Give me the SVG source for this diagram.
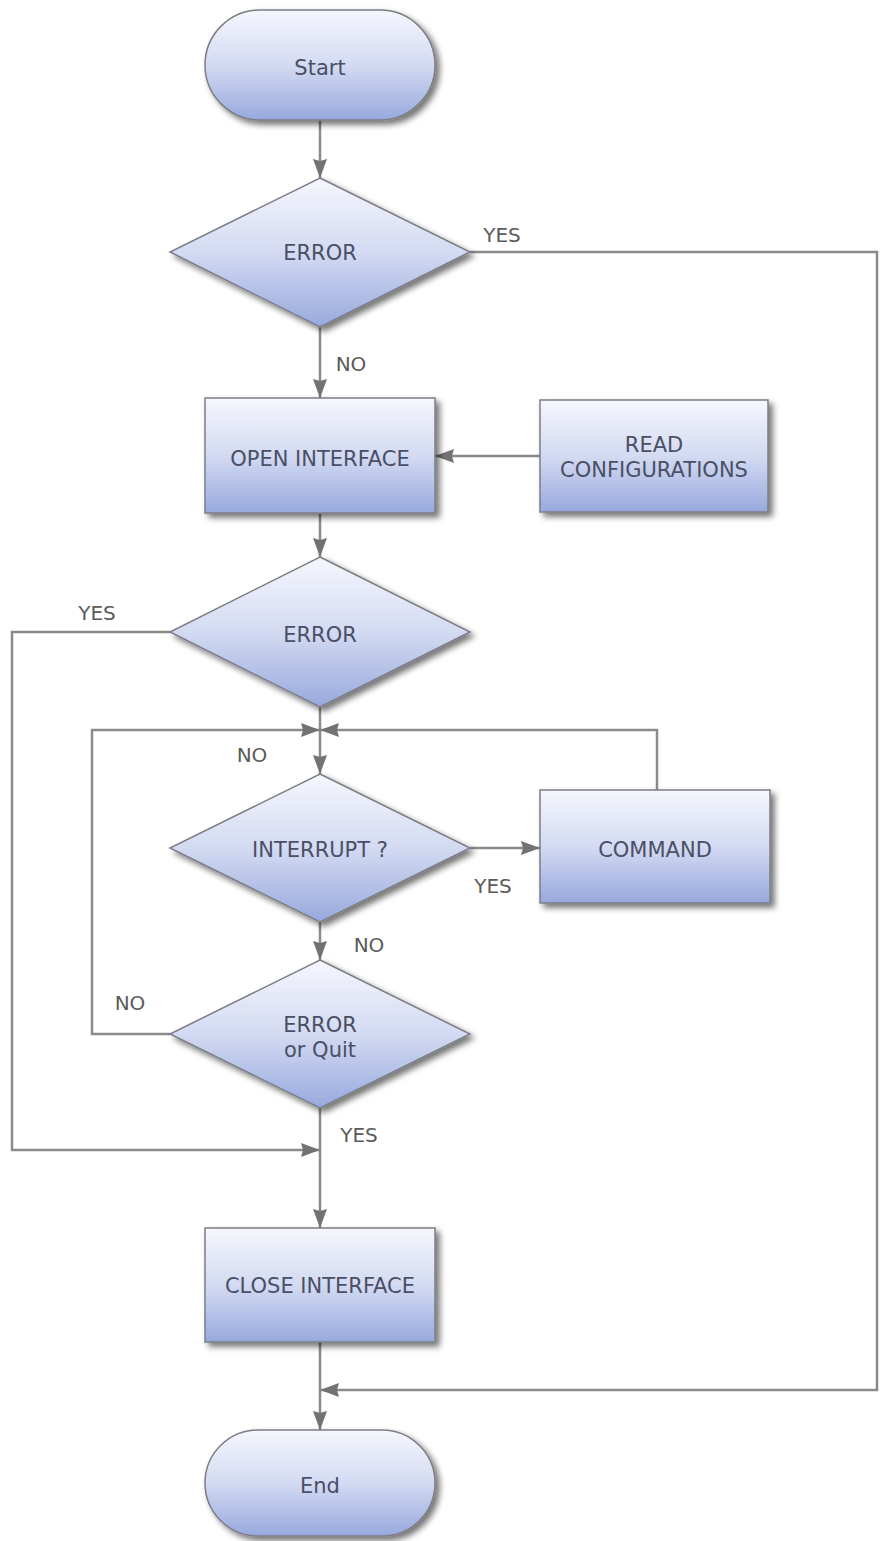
<svg xmlns="http://www.w3.org/2000/svg" width="880" height="1541" viewBox="0 0 880 1541">
<defs>
<linearGradient id="g" x1="0" y1="0" x2="0" y2="1">
<stop offset="0" stop-color="#f6f7fd"/>
<stop offset="0.5" stop-color="#d3daf2"/>
<stop offset="1" stop-color="#97a9dd"/>
</linearGradient>
<filter id="sh" x="-10%" y="-10%" width="130%" height="130%">
<feGaussianBlur in="SourceAlpha" stdDeviation="3"/>
<feOffset dx="4" dy="4" result="b"/>
<feComponentTransfer><feFuncA type="linear" slope="0.55"/></feComponentTransfer>
<feMerge><feMergeNode/><feMergeNode in="SourceGraphic"/></feMerge>
</filter>
<marker id="arr" markerUnits="userSpaceOnUse" markerWidth="20" markerHeight="16" refX="19" refY="8" orient="auto">
<path d="M0,1 L19,8 L0,15 L2,8 z" fill="#727272"/>
</marker>
<style>
.n{fill:url(#g);stroke:#7c7d86;stroke-width:1.5;filter:url(#sh)}
.t{font-family:"DejaVu Sans",Verdana,sans-serif;font-size:21px;fill:#4a4f66;text-anchor:middle}
.l{font-family:"DejaVu Sans",Verdana,sans-serif;font-size:20px;fill:#5a5a5a;text-anchor:middle}
.c{fill:none;stroke:#8a8a8a;stroke-width:2.5}
.a{marker-end:url(#arr)}
</style>
</defs>
<rect width="880" height="1541" fill="#ffffff"/>
<g id="connectors">
<path class="c a" d="M320,120 V178"/>
<path class="c a" d="M470,252 H877 V1390 H320"/>
<path class="c a" d="M320,327 V398"/>
<path class="c a" d="M540,456 H435"/>
<path class="c a" d="M320,513 V557"/>
<path class="c a" d="M320,707 V774"/>
<path class="c a" d="M170,632 H12 V1150 H320"/>
<path class="c a" d="M470,848 H540"/>
<path class="c a" d="M657,790 V730 H320"/>
<path class="c a" d="M320,922 V960"/>
<path class="c a" d="M170,1034 H92 V730 H320"/>
<path class="c a" d="M320,1108 V1228"/>
<path class="c a" d="M320,1342 V1430"/>
<text class="l" x="502" y="242">YES</text>
<text class="l" x="351" y="371">NO</text>
<text class="l" x="97" y="620">YES</text>
<text class="l" x="252" y="762">NO</text>
<text class="l" x="493" y="893">YES</text>
<text class="l" x="369" y="952">NO</text>
<text class="l" x="130" y="1010">NO</text>
<text class="l" x="359" y="1142">YES</text>
</g>
<g id="start"><rect class="n" x="205" y="10" width="230" height="110" rx="55"/><text class="t" x="320" y="75">Start</text></g>
<g id="error1"><polygon class="n" points="320,178 470,252 320,327 170,252"/><text class="t" x="320" y="260">ERROR</text></g>
<g id="open"><rect class="n" x="205" y="398" width="230" height="115"/><text class="t" x="320" y="466">OPEN INTERFACE</text></g>
<g id="read"><rect class="n" x="540" y="400" width="228" height="112"/><text class="t" x="654" y="452">READ</text><text class="t" x="654" y="477">CONFIGURATIONS</text></g>
<g id="error2"><polygon class="n" points="320,557 470,632 320,707 170,632"/><text class="t" x="320" y="642">ERROR</text></g>
<g id="interrupt"><polygon class="n" points="320,774 470,848 320,922 170,848"/><text class="t" x="320" y="857">INTERRUPT ?</text></g>
<g id="command"><rect class="n" x="540" y="790" width="230" height="113"/><text class="t" x="655" y="857">COMMAND</text></g>
<g id="errorquit"><polygon class="n" points="320,960 470,1034 320,1108 170,1034"/><text class="t" x="320" y="1032">ERROR</text><text class="t" x="320" y="1057">or Quit</text></g>
<g id="close"><rect class="n" x="205" y="1228" width="230" height="114"/><text class="t" x="320" y="1293">CLOSE INTERFACE</text></g>
<g id="end"><rect class="n" x="205" y="1430" width="230" height="106" rx="53"/><text class="t" x="320" y="1493">End</text></g>
</svg>
